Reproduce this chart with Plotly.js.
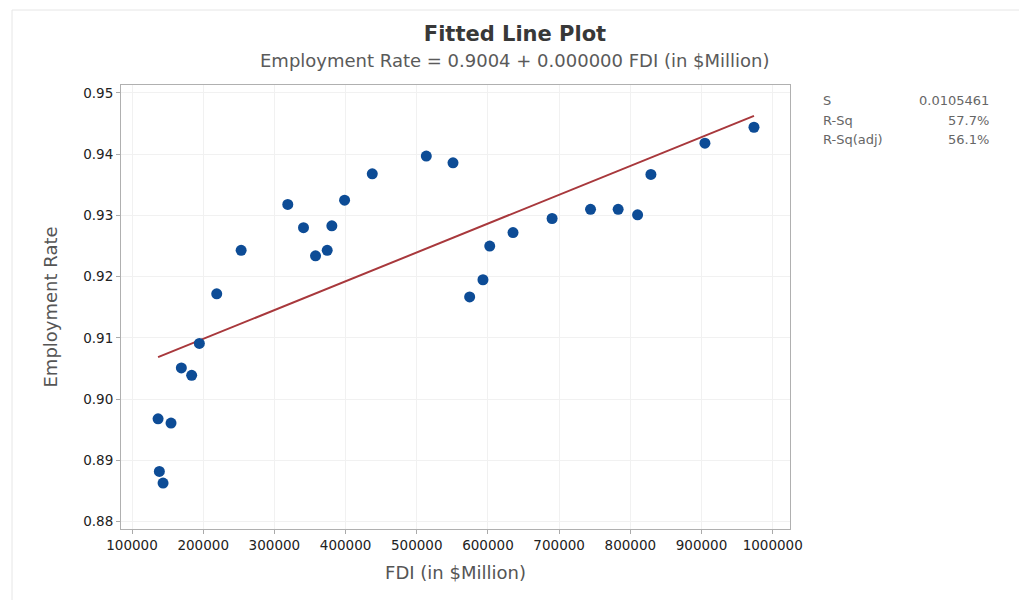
<!DOCTYPE html>
<html>
<head>
<meta charset="utf-8">
<script src="https://cdn.plot.ly/plotly-3.0.1.min.js"></script>
<style>html,body{margin:0;padding:0;background:#fff;}#chart{width:1019px;height:600px;}</style>
</head>
<body>
<div id="chart"></div>
<script>
// FDI (in $Million)
var fdi = [136600, 154800, 138400, 143600, 169300, 183800, 194600, 219000, 253300, 318800,
           340900, 357800, 374200, 380700, 398600, 437500, 513400, 550900, 574300, 593000,
           602500, 635200, 690100, 744100, 782900, 810200, 828900, 904800, 973700];
// Employment Rate
var empRate = [0.8968, 0.8961, 0.8882, 0.8863, 0.9051, 0.9039, 0.9091, 0.9172, 0.9243, 0.9318,
               0.9280, 0.9234, 0.9243, 0.9283, 0.9325, 0.9368, 0.9397, 0.9386, 0.9167, 0.9195,
               0.9250, 0.9272, 0.9295, 0.9310, 0.9310, 0.9301, 0.9367, 0.9418, 0.9444];

var xTickVals = [100000, 200000, 300000, 400000, 500000, 600000, 700000, 800000, 900000, 1000000];
var yTickVals = [0.88, 0.89, 0.90, 0.91, 0.92, 0.93, 0.94, 0.95];

var statLabels = ["S", "R-Sq", "R-Sq(adj)"];
var statValues = ["0.0105461", "57.7%", "56.1%"];

var titleText = "Fitted Line Plot";
var subtitleText = "Employment Rate = 0.9004 + 0.000000 FDI (in $Million)";

// least squares fit from the data
var n = fdi.length, sx = 0, sy = 0, sxx = 0, sxy = 0;
for (var i = 0; i < n; i++) { sx += fdi[i]; sy += empRate[i]; sxx += fdi[i]*fdi[i]; sxy += fdi[i]*empRate[i]; }
var slope = (n*sxy - sx*sy) / (n*sxx - sx*sx);
var intercept = (sy - slope*sx) / n;
var xmin = Math.min.apply(null, fdi), xmax = Math.max.apply(null, fdi);
var fitX = [xmin, xmax];
var fitY = [intercept + slope*xmin, intercept + slope*xmax];

var FONT = "DejaVu Sans, sans-serif";

var traces = [
  {
    x: fitX, y: fitY, mode: "lines", type: "scatter",
    line: {color: "#a8383c", width: 2}, hoverinfo: "skip", showlegend: false
  },
  {
    x: fdi, y: empRate, mode: "markers", type: "scatter",
    marker: {color: "#0d4c96", size: 11}, showlegend: false
  }
];

var plotL = 121, plotR = 790, plotT = 85, plotB = 529, W = 1019, H = 600;
function px2paperX(p) { return (p - plotL) / (plotR - plotL); }
function px2paperY(p) { return (plotB - p) / (plotB - plotT); }

var annotations = [
  {
    text: subtitleText, xref: "paper", yref: "paper",
    x: px2paperX(515), y: px2paperY(60), xanchor: "center", yanchor: "middle",
    showarrow: false, font: {family: FONT, size: 18, color: "#5a5a5a"}
  }
];
var statY = [100.7, 120.7, 139.3];
for (var k = 0; k < statLabels.length; k++) {
  annotations.push({
    text: statLabels[k], xref: "paper", yref: "paper",
    x: px2paperX(821), y: px2paperY(statY[k]), xanchor: "left", yanchor: "middle",
    showarrow: false, font: {family: FONT, size: 13, color: "#666"}
  });
  annotations.push({
    text: statValues[k], xref: "paper", yref: "paper",
    x: px2paperX(991), y: px2paperY(statY[k]), xanchor: "right", yanchor: "middle",
    showarrow: false, font: {family: FONT, size: 13, color: "#666"}
  });
}

var layout = {
  width: W, height: H,
  paper_bgcolor: "#ffffff", plot_bgcolor: "#ffffff",
  margin: {l: plotL, r: W - plotR, t: plotT, b: H - plotB, pad: 0},
  title: {
    text: titleText, xref: "container", yref: "container",
    x: 515 / W, y: 1 - 34 / H, xanchor: "center", yanchor: "middle",
    font: {family: FONT, size: 21, color: "#383838", weight: "bold"}
  },
  xaxis: {
    range: [84530, 1024300],
    tickvals: xTickVals, ticktext: xTickVals.map(function(v){ return String(v); }),
    ticks: "outside", ticklen: 4, tickcolor: "#aaa",
    showline: true, linecolor: "#b0b0b0", linewidth: 1, mirror: true,
    showgrid: true, gridcolor: "#f1f1f1", zeroline: false,
    tickfont: {family: FONT, size: 13.5, color: "#222"},
    title: {text: "FDI (in $Million)", standoff: 14, font: {family: FONT, size: 18, color: "#555"}}
  },
  yaxis: {
    range: [0.8788, 0.9513],
    tickvals: yTickVals, ticktext: yTickVals.map(function(v){ return v.toFixed(2); }),
    ticks: "outside", ticklen: 4, tickcolor: "#aaa",
    showline: true, linecolor: "#b0b0b0", linewidth: 1, mirror: true,
    showgrid: true, gridcolor: "#f1f1f1", zeroline: false,
    tickfont: {family: FONT, size: 13.5, color: "#222"},
    title: {text: "Employment Rate", standoff: 20, font: {family: FONT, size: 18, color: "#555"}}
  },
  annotations: annotations,
  shapes: [
    {type: "rect", xref: "paper", yref: "paper",
     x0: px2paperX(12), x1: px2paperX(1030), y0: px2paperY(610), y1: px2paperY(10),
     line: {color: "#e6e6e6", width: 1}, fillcolor: "rgba(0,0,0,0)", layer: "below"}
  ]
};

Plotly.newPlot("chart", traces, layout, {displayModeBar: false, staticPlot: true});
</script>
</body>
</html>
